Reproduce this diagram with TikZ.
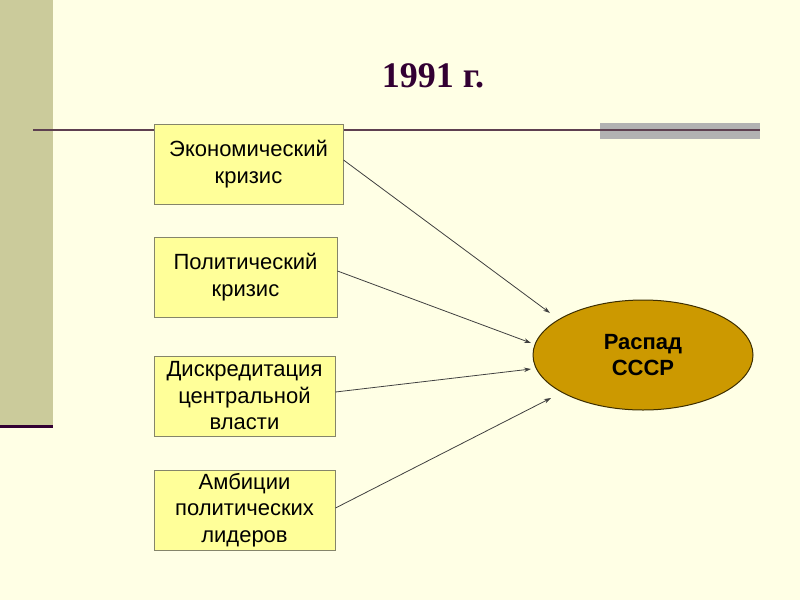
\documentclass[tikz,border=0pt]{standalone}
\usepackage{fontspec}
\setmainfont{Liberation Sans}
\newfontfamily\titlefont{Liberation Serif}
\usetikzlibrary{shapes.geometric,arrows.meta}
\definecolor{bg}{HTML}{FFFFE5}
\definecolor{band}{HTML}{CBCB9B}
\definecolor{darkpurple}{HTML}{330033}
\definecolor{rule}{HTML}{5E4050}
\definecolor{boxfill}{HTML}{FFFF99}
\definecolor{boxline}{HTML}{85856A}
\definecolor{ellfill}{HTML}{CC9900}
\definecolor{arrowc}{HTML}{404040}
\tikzset{
  cause/.style={draw=boxline, line width=1pt, fill=boxfill, minimum height=80pt, align=center, font=\fontsize{22}{26.5}\selectfont, inner sep=0pt},
  result/.style={ellipse, draw=black!70!ellfill, line width=1pt, fill=ellfill, minimum width=220pt, minimum height=110pt, align=center, font=\bfseries\fontsize{22}{26.5}\selectfont},
  link/.style={draw=arrowc, line width=0.8pt, -{Stealth[length=7pt,width=4.5pt]}}
}
\begin{document}
\begin{tikzpicture}[x=1pt,y=-1pt]
\useasboundingbox (0,0) rectangle (800,600);
\fill[bg] (0,0) rectangle (800,600);
\fill[band] (0,0) rectangle (53,427);
\draw[darkpurple, line width=3pt] (0,426) -- (53,426);
\fill[black!30] (600,123) rectangle (760,139);
\draw[rule, line width=2pt] (33,130) -- (760,130);
\node[font=\titlefont\bfseries\fontsize{36}{40}\selectfont, text=darkpurple] (title) at (433,76) {1991 г.};
\node[cause, minimum width=189pt] (c1) at (248.5,164) {Экономический\\кризис};
\node[cause, minimum width=183pt] (c2) at (245.5,277) {Политический\\кризис};
\node[cause, minimum width=181pt] (c3) at (244.5,396) {Дискредитация\\центральной\\власти};
\node[cause, minimum width=181pt] (c4) at (244.5,510) {Амбиции\\политических\\лидеров};
\node[result] (r) at (643,355) {Распад\\СССР};
\coordinate (a1) at (550,313);
\coordinate (a2) at (531,343);
\coordinate (a3) at (531,369);
\coordinate (a4) at (551,398);
\draw[link] ([yshift=4pt]c1.east) -- (a1);
\draw[link] ([yshift=6pt]c2.east) -- (a2);
\draw[link] ([yshift=4pt]c3.east) -- (a3);
\draw[link] ([yshift=2pt]c4.east) -- (a4);
\end{tikzpicture}
\end{document}
